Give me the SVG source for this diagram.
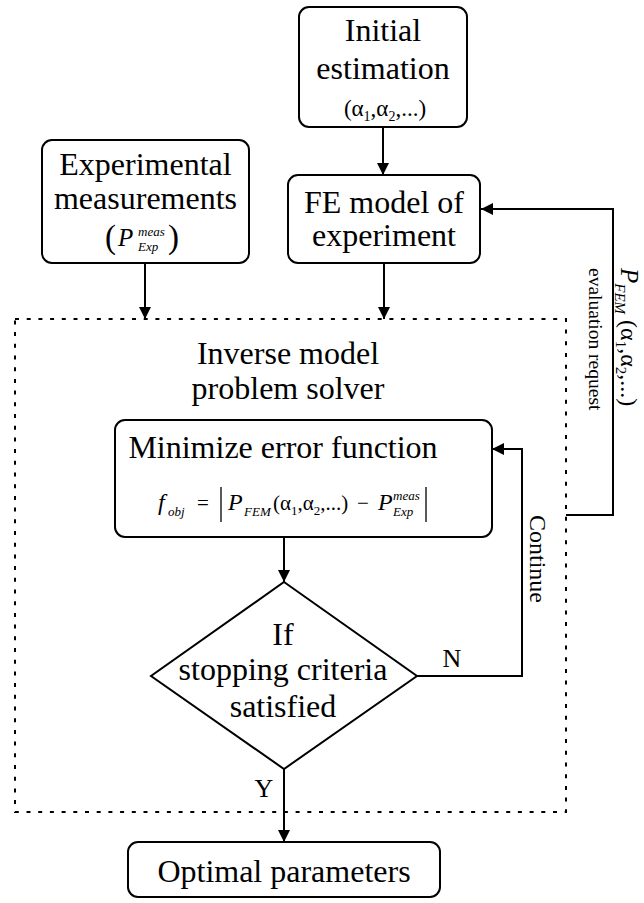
<svg xmlns="http://www.w3.org/2000/svg" width="644" height="903" viewBox="0 0 644 903">
<style>
.box{fill:#fff;stroke:#000;stroke-width:2}
.t{font-family:"Liberation Serif","Times New Roman",serif;font-size:32px;fill:#000;text-anchor:middle}
.m{font-family:"Liberation Serif","Times New Roman",serif;fill:#000}
.i{font-style:italic}
.c{fill:none;stroke:#000;stroke-width:2}
</style>
<defs>
<marker id="ah" markerUnits="userSpaceOnUse" markerWidth="12" markerHeight="12" refX="12" refY="6" orient="auto">
<path d="M0,0 L12,6 L0,12 Z" fill="#000"/>
</marker>
</defs>
<rect id="inverse-solver-frame" x="15" y="319" width="551" height="493" fill="none" stroke="#000" stroke-width="2" stroke-dasharray="4 7.7"/>
<text class="t" x="288" y="364">Inverse model</text>
<text class="t" x="288" y="399">problem solver</text>
<g id="connectors">
<path class="c" d="M383,127 V175" marker-end="url(#ah)"/>
<path class="c" d="M145,263 V319" marker-end="url(#ah)"/>
<path class="c" d="M384,263 V319" marker-end="url(#ah)"/>
<path class="c" d="M284,537 V582" marker-end="url(#ah)"/>
<path class="c" d="M284,769 V842" marker-end="url(#ah)"/>
<path class="c" d="M417,676 H522 V449 H492" marker-end="url(#ah)"/>
<path class="c" d="M566,515 H613 V209 H481" marker-end="url(#ah)"/>
<text class="m" x="452" y="667" font-size="26" text-anchor="middle">N</text>
<text class="m" x="264" y="797" font-size="26" text-anchor="middle">Y</text>
<text class="m" font-size="24" transform="translate(530,515) rotate(90)">Continue</text>
<text class="m" font-size="19.5" transform="translate(589,268) rotate(90)">evaluation request</text>
<text class="m" font-size="24" transform="translate(621,268) rotate(90)"><tspan class="i" font-size="25">P</tspan><tspan class="i" font-size="15" dy="6">FEM</tspan><tspan dy="-6"> (α</tspan><tspan font-size="15" dy="5">1</tspan><tspan dy="-5">,α</tspan><tspan font-size="15" dy="5">2</tspan><tspan dy="-5">,...)</tspan></text>
</g>
<g id="initial-estimation">
<rect class="box" x="299" y="7" width="168" height="120" rx="10"/>
<text class="t" x="383" y="41" font-size="31">Initial</text>
<text class="t" x="383" y="79" font-size="31">estimation</text>
<text class="m" x="385" y="116" font-size="23" text-anchor="middle">(α<tspan font-size="14" dy="5">1</tspan><tspan dy="-5">,α</tspan><tspan font-size="14" dy="5">2</tspan><tspan dy="-5">,...)</tspan></text>
</g>
<g id="experimental-measurements">
<rect class="box" x="42" y="140" width="207" height="123" rx="10"/>
<text class="t" x="145.5" y="175">Experimental</text>
<text class="t" x="145.5" y="209">measurements</text>
<text class="m" x="105" y="248" font-size="33">(</text>
<text class="m i" x="118" y="246" font-size="25">P</text>
<text class="m i" x="138" y="236" font-size="13">meas</text>
<text class="m i" x="138" y="251" font-size="13">Exp</text>
<text class="m" x="168" y="248" font-size="33">)</text>
</g>
<g id="fe-model">
<rect class="box" x="288" y="175" width="192" height="88" rx="10"/>
<text class="t" x="384" y="213">FE model of</text>
<text class="t" x="384" y="246">experiment</text>
</g>
<g id="minimize-error">
<rect class="box" x="115" y="420" width="377" height="117" rx="10"/>
<text class="t" x="283" y="458">Minimize error function</text>
<text class="m i" x="158" y="510" font-size="24">f</text>
<text class="m i" x="168" y="516" font-size="13">obj</text>
<text class="m" x="197" y="510" font-size="21">=</text>
<line x1="221" y1="487" x2="221" y2="522" stroke="#000" stroke-width="1.3"/>
<text class="m i" x="228" y="510" font-size="24">P</text>
<text class="m i" x="244" y="516" font-size="13">FEM</text>
<text class="m" x="273" y="510" font-size="21">(α<tspan font-size="13" dy="5">1</tspan><tspan dy="-5">,α</tspan><tspan font-size="13" dy="5">2</tspan><tspan dy="-5">,...)</tspan></text>
<text class="m" x="357" y="510" font-size="21">−</text>
<text class="m i" x="378" y="510" font-size="24">P</text>
<text class="m i" x="393" y="500" font-size="13">meas</text>
<text class="m i" x="393" y="516" font-size="13">Exp</text>
<line x1="426" y1="487" x2="426" y2="522" stroke="#000" stroke-width="1.3"/>
</g>
<g id="stopping-decision">
<path class="box" d="M284,582 L417,676 L284,769 L151,676 Z"/>
<text class="t" x="283" y="645">If</text>
<text class="t" x="283" y="680">stopping criteria</text>
<text class="t" x="283" y="717">satisfied</text>
</g>
<g id="optimal-parameters">
<rect class="box" x="128" y="842" width="312" height="55" rx="10"/>
<text class="t" x="284" y="882">Optimal parameters</text>
</g>
</svg>
